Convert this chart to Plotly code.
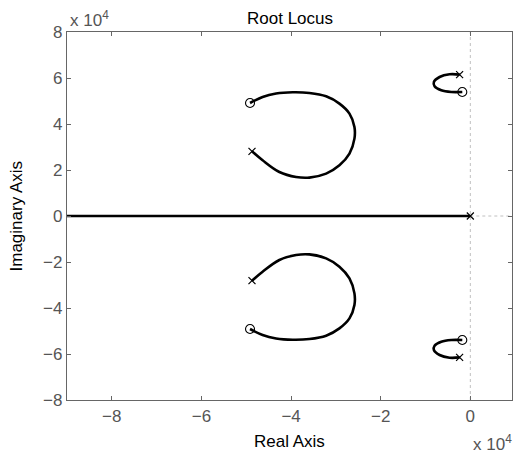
import plotly.graph_objects as go

# Root locus branches (units of 1e4); lower half-plane branches are the complex conjugates
loop_big_re = [-4.872, -4.635, -4.261, -3.888, -3.591, -3.218, -2.921, -2.697, -2.586,
               -2.586, -2.697, -2.921, -3.218, -3.591, -3.964, -4.335, -4.635, -4.916]
loop_big_im = [2.813, 2.422, 1.913, 1.696, 1.670, 1.843, 2.204, 2.713, 3.365,
               3.870, 4.452, 4.887, 5.204, 5.348, 5.378, 5.322, 5.174, 4.913]
loop_small_re = [-0.239, -0.463, -0.686, -0.813, -0.798, -0.648, -0.425, -0.179]
loop_small_im = [6.148, 6.161, 6.043, 5.826, 5.639, 5.465, 5.391, 5.391]
real_branch_re = [-9.0, 0.0]
real_branch_im = [0.0, 0.0]

pole_re = [-4.872, -4.872, -0.239, -0.239, 0.0]
pole_im = [2.813, -2.813, 6.148, -6.148, 0.0]
zero_re = [-4.916, -4.916, -0.179, -0.179]
zero_im = [4.913, -4.913, 5.391, -5.391]

x_ticks = [-8, -6, -4, -2, 0]
y_ticks = [-8, -6, -4, -2, 0, 2, 4, 6, 8]
x_range = [-9.0, 0.93]
y_range = [-8.0, 8.0]

FONT = "Liberation Sans, Arial, Helvetica, sans-serif"
AX_COLOR = "#666666"
TICK_COLOR = "#555555"
FS = 17

fig = go.Figure()

# dotted zero reference lines
fig.add_trace(go.Scatter(x=[0, 0], y=y_range, mode="lines",
                         line=dict(color="#c0c0c0", width=1, dash="dot"),
                         hoverinfo="skip", showlegend=False))
fig.add_trace(go.Scatter(x=[0, x_range[1]], y=[0, 0], mode="lines",
                         line=dict(color="#c0c0c0", width=1, dash="dot"),
                         hoverinfo="skip", showlegend=False))

branch_style = dict(color="black", width=2.6)
for re, im in [(loop_big_re, loop_big_im), (loop_small_re, loop_small_im)]:
    fig.add_trace(go.Scatter(x=re, y=im, mode="lines", line=branch_style,
                             line_shape="spline", showlegend=False))
    fig.add_trace(go.Scatter(x=re, y=[-v for v in im], mode="lines", line=branch_style,
                             line_shape="spline", showlegend=False))
fig.add_trace(go.Scatter(x=real_branch_re, y=real_branch_im, mode="lines",
                         line=branch_style, showlegend=False))

# poles and zeros
fig.add_trace(go.Scatter(x=pole_re, y=pole_im, mode="markers",
                         marker=dict(symbol="x-thin", size=7,
                                     line=dict(color="black", width=1.2)),
                         showlegend=False))
fig.add_trace(go.Scatter(x=zero_re, y=zero_im, mode="markers",
                         marker=dict(symbol="circle-open", size=9, color="black",
                                     line=dict(color="black", width=1.1)),
                         showlegend=False))


def tick_text(vals):
    return [("\u2212%d" % -t) if t < 0 else str(t) for t in vals]


axis_common = dict(showline=True, linecolor=AX_COLOR, linewidth=1.2, mirror="allticks",
                   ticks="inside", ticklen=4, tickcolor=AX_COLOR, tickwidth=1,
                   showgrid=False, zeroline=False,
                   tickfont=dict(family=FONT, size=FS, color=TICK_COLOR))

fig.update_xaxes(range=x_range, tickvals=x_ticks, ticktext=tick_text(x_ticks), **axis_common)
fig.update_yaxes(range=y_range, tickvals=y_ticks, ticktext=tick_text(y_ticks), **axis_common)

fig.update_layout(
    width=513, height=457,
    margin=dict(l=67, r=1, t=32, b=57),
    paper_bgcolor="white", plot_bgcolor="white",
    font=dict(family=FONT, color="black"),
    annotations=[
        dict(text="Root Locus", x=0.5, y=1, xref="paper", yref="paper",
             xanchor="center", yanchor="bottom", yshift=2, showarrow=False,
             font=dict(size=FS, color="black")),
        dict(text="Real Axis", x=0.5, y=0, xref="paper", yref="paper",
             xanchor="center", yanchor="top", yshift=-30, showarrow=False,
             font=dict(size=FS, color="black")),
        dict(text="Imaginary Axis", x=0, y=0.5, xref="paper", yref="paper",
             xanchor="right", yanchor="middle", xshift=-40, textangle=-90,
             showarrow=False, font=dict(size=FS, color="black")),
        dict(text="x 10<sup>4</sup>", x=0, y=1, xref="paper", yref="paper",
             xanchor="left", yanchor="bottom", xshift=1, yshift=0, showarrow=False,
             font=dict(size=FS, color=TICK_COLOR)),
        dict(text="x 10<sup>4</sup>", x=1, y=0, xref="paper", yref="paper",
             xanchor="right", yanchor="top", xshift=2, yshift=-30, showarrow=False,
             font=dict(size=FS, color=TICK_COLOR)),
    ],
)

fig.write_html("out.html")
